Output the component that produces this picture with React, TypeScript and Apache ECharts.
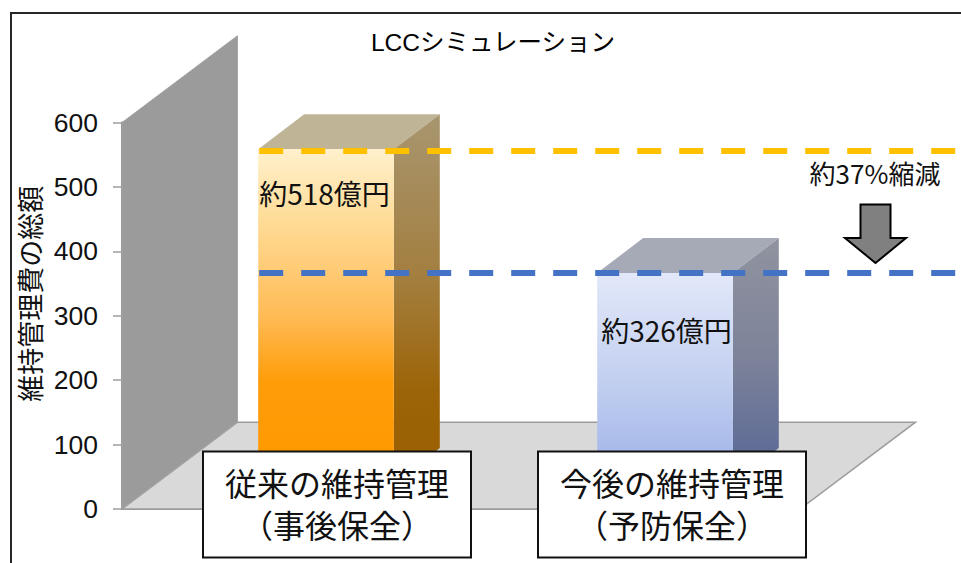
import React, { useEffect, useRef } from "react";
import * as echarts from "echarts";

const titleText = "LCCシミュレーション";
const yAxisTitle = "維持管理費の総額";
const categories = ["従来の維持管理\n（事後保全）", "今後の維持管理\n（予防保全）"];
const totals = [518, 326];
const barLabels = ["約518億円", "約326億円"];
const reductionText = "約37%縮減";

const FONT = '"Liberation Sans", "Noto Sans CJK JP", sans-serif';
const CJK = '"Noto Sans CJK JP", "Liberation Sans", sans-serif';

// 3D projection of the chart box
const WALL_DX = 115.5;
const WALL_DY = 86.8;
const BAR_SHIFT_X = 34.5;
const BAR_SHIFT_Y = 26;
const BAR_DX = 46;
const BAR_DY = 35;

const vGrad = (stops: [number, string][]) => ({
  type: "linear",
  x: 0,
  y: 0,
  x2: 0,
  y2: 1,
  colorStops: stops.map(([offset, color]) => ({ offset, color })),
});

const barStyles = [
  {
    front: vGrad([[0, "#FFF0CC"], [0.2, "#FFDD9A"], [0.5, "#FFBB55"], [0.7, "#FF9C08"], [1, "#FF9900"]]),
    side: vGrad([[0, "#A89670"], [0.45, "#A37E3E"], [0.75, "#9C6408"], [1, "#9A5F00"]]),
    top: "#BFB596",
  },
  {
    front: vGrad([[0, "#E2E8F9"], [0.5, "#C3D0F0"], [1, "#9DB1E8"]]),
    side: vGrad([[0, "#90939F"], [0.5, "#7C8299"], [1, "#566596"]]),
    top: "#A6A9B6",
  },
];
const lineColors = ["#FFC000", "#4472C4"];
const lineShiftY = [1.7, 0];
const labelShiftX = [-1.5, 1.5];
const labelShiftY = [43.5, 57];

const barGeom = (api: any) => {
  const i = api.value(0);
  const top = api.coord([i, api.value(1)]);
  const base = api.coord([i, 0]);
  const half = api.size([1, 0])[0] * 0.2;
  const cx = top[0] + BAR_SHIFT_X;
  return { i, cx, half, yTop: top[1] - BAR_SHIFT_Y, yBase: base[1] - BAR_SHIFT_Y };
};

const boxes = [
  { x: 203, w: 268 },
  { x: 538, w: 268 },
];
const boxY = 451.5;
const boxH = 106;

export default function App() {
  const ref = useRef<HTMLDivElement>(null);

  useEffect(() => {
    if (!ref.current) return;
    const chart = echarts.init(ref.current, undefined, { renderer: "svg" });

    const data = categories.map((_, i) => [i, totals[i]]);

    const graphic: any[] = [
      {
        type: "polyline",
        z: 100,
        shape: { points: [[11, 563], [11, 13], [961, 13]] },
        style: { stroke: "#262626", lineWidth: 2, fill: "none" },
      },
    ];
    boxes.forEach((b, i) => {
      graphic.push({
        type: "rect",
        z: 100,
        shape: { x: b.x, y: boxY, width: b.w, height: boxH },
        style: { fill: "#fff", stroke: "#111", lineWidth: 2 },
      });
      graphic.push({
        type: "text",
        z: 101,
        x: b.x + b.w / 2,
        y: boxY + boxH / 2 - 1.5,
        style: {
          text: categories[i],
          fontSize: 32,
          lineHeight: 42,
          fontFamily: CJK,
          fill: "#111",
          textAlign: "center",
          textVerticalAlign: "middle",
        },
      });
    });
    graphic.push({
      type: "text",
      z: 101,
      x: 875,
      y: 172,
      style: {
        text: reductionText,
        fontSize: 26,
        fontFamily: CJK,
        fill: "#111",
        textAlign: "center",
        textVerticalAlign: "middle",
      },
    });
    graphic.push({
      type: "polygon",
      z: 100,
      shape: {
        points: [[860.5, 204.5], [890.5, 204.5], [890.5, 238], [906, 238], [875.5, 263], [845, 238], [860.5, 238]],
      },
      style: { fill: "#808080", stroke: "#000", lineWidth: 2 },
    });

    chart.setOption({
      animation: false,
      backgroundColor: "#fff",
      title: {
        text: titleText,
        left: 488,
        top: 25,
        textAlign: "center",
        textStyle: { fontSize: 24.5, fontWeight: "normal", fontFamily: FONT, color: "#000" },
      },
      grid: { left: 122, right: 161, top: 122.5, bottom: 54 },
      xAxis: {
        type: "category",
        data: categories,
        axisLabel: { show: false },
        axisTick: { show: false },
        axisLine: { show: true, lineStyle: { color: "#9C9C9C", width: 2 } },
      },
      yAxis: {
        type: "value",
        min: 0,
        max: 600,
        interval: 100,
        name: yAxisTitle,
        nameLocation: "middle",
        nameRotate: 90,
        nameGap: 74,
        nameTextStyle: { fontSize: 27, fontFamily: CJK, color: "#111", padding: [0, 0, 0, 44] },
        axisLine: { show: true, lineStyle: { color: "#8C8C8C", width: 2 } },
        axisTick: { show: true, length: 9, lineStyle: { color: "#9C9C9C", width: 1.5 } },
        axisLabel: { fontSize: 26.5, fontFamily: FONT, color: "#111", margin: 24, padding: [3, 0, 0, 0] },
        splitLine: { show: false },
      },
      graphic,
      series: [
        {
          type: "custom",
          name: "backdrop",
          silent: true,
          z: 1,
          data: [[0, 0]],
          renderItem: (params: any) => {
            const g = params.coordSys;
            const l = g.x;
            const r = g.x + g.width;
            const t = g.y;
            const b = g.y + g.height;
            return {
              type: "group",
              children: [
                {
                  type: "polygon",
                  shape: { points: [[l, b], [l + WALL_DX, b - WALL_DY], [r + WALL_DX, b - WALL_DY], [r, b]] },
                  style: { fill: "#D9D9D9", stroke: "#9C9C9C", lineWidth: 1.5 },
                },
                {
                  type: "polygon",
                  shape: { points: [[l, t], [l + WALL_DX, t - WALL_DY], [l + WALL_DX, b - WALL_DY], [l, b]] },
                  style: { fill: "#9B9B9B", stroke: "#A6A6A6", lineWidth: 1 },
                },
              ],
            };
          },
        },
        {
          type: "custom",
          name: "維持管理費",
          silent: true,
          z: 2,
          data,
          encode: { x: 0, y: 1 },
          renderItem: (_: any, api: any) => {
            const { i, cx, half, yTop, yBase } = barGeom(api);
            const l = cx - half;
            const r = cx + half;
            const s = barStyles[i];
            return {
              type: "group",
              children: [
                {
                  type: "polygon",
                  shape: { points: [[l, yTop], [l + BAR_DX, yTop - BAR_DY], [r + BAR_DX, yTop - BAR_DY], [r, yTop]] },
                  style: { fill: s.top },
                },
                {
                  type: "polygon",
                  shape: { points: [[r, yTop], [r + BAR_DX, yTop - BAR_DY], [r + BAR_DX, yBase - BAR_DY], [r, yBase]] },
                  style: { fill: s.side },
                },
                {
                  type: "rect",
                  shape: { x: l, y: yTop, width: r - l, height: yBase - yTop },
                  style: { fill: s.front },
                },
              ],
            };
          },
        },
        {
          type: "custom",
          name: "labels",
          silent: true,
          z: 3,
          data,
          encode: { x: 0, y: 1 },
          renderItem: (_: any, api: any) => {
            const { i, cx, yTop } = barGeom(api);
            return {
              type: "text",
              x: cx + labelShiftX[i],
              y: yTop + labelShiftY[i],
              style: {
                text: barLabels[i],
                fontSize: 28,
                fontFamily: CJK,
                fill: "#111",
                textAlign: "center",
                textVerticalAlign: "middle",
              },
            };
          },
        },
        {
          type: "custom",
          name: "levels",
          silent: true,
          z: 4,
          data,
          encode: { x: 0, y: 1 },
          renderItem: (params: any, api: any) => {
            const { i, yTop } = barGeom(api);
            const g = params.coordSys;
            const half = (g.width / 4) * 0.4;
            const startX = api.coord([0, 0])[0] + BAR_SHIFT_X - half + 1;
            const y = yTop + lineShiftY[i];
            return {
              type: "line",
              shape: { x1: startX, y1: y, x2: 961, y2: y },
              style: { stroke: lineColors[i], lineWidth: 6, lineDash: [24, 18] },
            };
          },
        },
      ],
    } as any);

    return () => chart.dispose();
  }, []);

  return <div ref={ref} style={{ position: "fixed", left: 0, top: 0, width: 961, height: 563 }} />;
}
